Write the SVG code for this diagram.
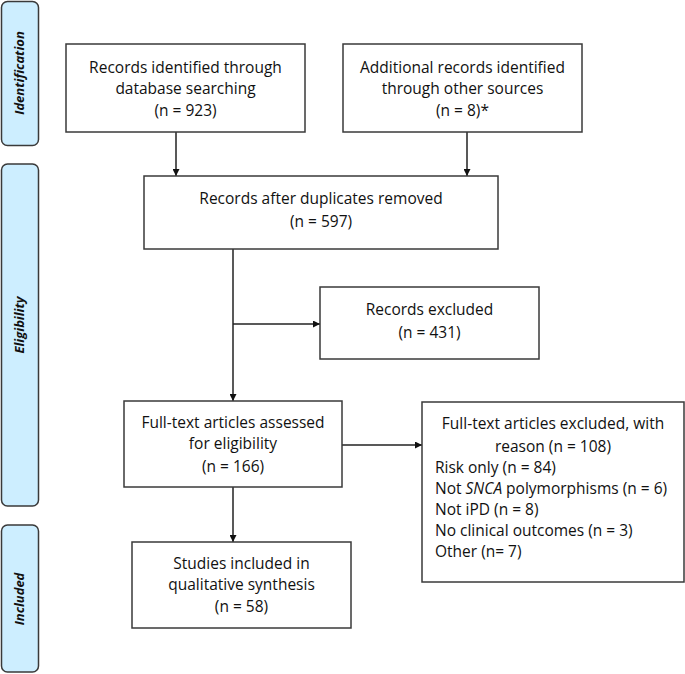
<svg xmlns="http://www.w3.org/2000/svg" width="685" height="674" viewBox="0 0 685 674">
<style>
.band{fill:#cdeeff;stroke:#3a3a3a;stroke-width:1.5}
.box{fill:#fff;stroke:#3a3a3a;stroke-width:1.5}
.t{font-family:"Open Sans","Liberation Sans",sans-serif;font-size:15.5px;fill:#111}
.c{text-anchor:middle}
.lab{font-family:"Open Sans","Liberation Sans",sans-serif;font-size:13px;font-weight:bold;font-style:italic;fill:#111;text-anchor:middle}
.ln{stroke:#222;stroke-width:1.5;fill:none}
</style>
<defs>
<marker id="ah" viewBox="0 0 10 10" refX="10" refY="5" markerWidth="7" markerHeight="7" markerUnits="userSpaceOnUse" orient="auto">
<path d="M0,0 L10,5 L0,10 Z" fill="#111"/>
</marker>
</defs>
<rect width="685" height="674" fill="#fff"/>
<g id="band-identification">
<rect class="band" x="1.5" y="1.5" width="37" height="144" rx="6"/>
<text class="lab" transform="translate(24,73) rotate(-90)">Identification</text>
</g>
<g id="band-eligibility">
<rect class="band" x="1.5" y="164" width="37" height="342" rx="6"/>
<text class="lab" transform="translate(24,325) rotate(-90)">Eligibility</text>
</g>
<g id="band-included">
<rect class="band" x="1.5" y="525" width="37" height="147" rx="6"/>
<text class="lab" transform="translate(24,599) rotate(-90)">Included</text>
</g>
<g id="connectors">
<line class="ln" x1="176" y1="132" x2="176" y2="176" marker-end="url(#ah)"/>
<line class="ln" x1="467" y1="132" x2="467" y2="176" marker-end="url(#ah)"/>
<line class="ln" x1="233" y1="249" x2="233" y2="401" marker-end="url(#ah)"/>
<line class="ln" x1="233" y1="324" x2="320" y2="324" marker-end="url(#ah)"/>
<line class="ln" x1="233" y1="487" x2="233" y2="542" marker-end="url(#ah)"/>
<line class="ln" x1="342" y1="445" x2="422" y2="445" marker-end="url(#ah)"/>
</g>
<g id="records-db">
<rect class="box" x="66" y="44" width="239" height="88"/>
<text class="t c" x="185.5" y="73">Records identified through</text>
<text class="t c" x="185.5" y="94">database searching</text>
<text class="t c" x="185.5" y="116">(n = 923)</text>
</g>
<g id="records-other">
<rect class="box" x="343" y="44" width="239" height="88"/>
<text class="t c" x="462.5" y="73">Additional records identified</text>
<text class="t c" x="462.5" y="94">through other sources</text>
<text class="t c" x="462.5" y="116">(n = 8)*</text>
</g>
<g id="records-dedup">
<rect class="box" x="144" y="176" width="354" height="73"/>
<text class="t c" x="321" y="204">Records after duplicates removed</text>
<text class="t c" x="321" y="227">(n = 597)</text>
</g>
<g id="records-excluded">
<rect class="box" x="320" y="287" width="219" height="72"/>
<text class="t c" x="429.5" y="315">Records excluded</text>
<text class="t c" x="429.5" y="338">(n = 431)</text>
</g>
<g id="fulltext-assessed">
<rect class="box" x="124" y="401" width="218" height="86"/>
<text class="t c" x="233" y="428">Full-text articles assessed</text>
<text class="t c" x="233" y="449">for eligibility</text>
<text class="t c" x="233" y="472">(n = 166)</text>
</g>
<g id="fulltext-excluded">
<rect class="box" x="422" y="402" width="262" height="180"/>
<text class="t c" x="553" y="429">Full-text articles excluded, with</text>
<text class="t c" x="553" y="452">reason (n = 108)</text>
<text class="t" x="435" y="473">Risk only (n = 84)</text>
<text class="t" x="435" y="494">Not <tspan font-style="italic">SNCA</tspan> polymorphisms (n = 6)</text>
<text class="t" x="435" y="515">Not iPD (n = 8)</text>
<text class="t" x="435" y="536">No clinical outcomes (n = 3)</text>
<text class="t" x="435" y="557">Other (n= 7)</text>
</g>
<g id="studies-included">
<rect class="box" x="132" y="542" width="219" height="86"/>
<text class="t c" x="241.5" y="569">Studies included in</text>
<text class="t c" x="241.5" y="590">qualitative synthesis</text>
<text class="t c" x="241.5" y="612">(n = 58)</text>
</g>
</svg>
